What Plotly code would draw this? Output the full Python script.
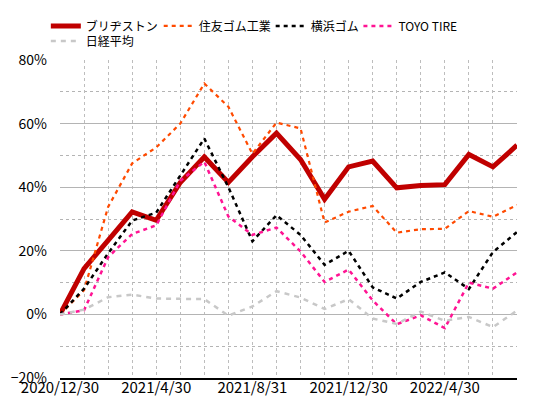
import plotly.graph_objects as go

# month-end dates (category axis)
dates = ["2020/12/30", "2021/1/29", "2021/2/26", "2021/3/31", "2021/4/30",
         "2021/5/31", "2021/6/30", "2021/7/30", "2021/8/31", "2021/9/30",
         "2021/10/29", "2021/11/30", "2021/12/30", "2022/1/31", "2022/2/28",
         "2022/3/31", "2022/4/30", "2022/5/31", "2022/6/30", "2022/7/29"]

# cumulative change vs 2020/12/30, in %
bridgestone = [0, 14.4, 23.3, 32.2, 29.6, 41.5, 49.5, 41.5, 49.6, 57.0,
               48.7, 36.2, 46.4, 48.2, 39.8, 40.5, 40.8, 50.3, 46.4, 53.2]
sumitomo = [0, 7.6, 33.8, 47.5, 52.5, 60.0, 72.6, 65.3, 50.5, 60.3,
            58.5, 28.9, 32.3, 34.1, 25.7, 26.8, 26.9, 32.5, 30.7, 34.4]
yokohama = [0, 8.1, 19.2, 29.5, 32.0, 43.5, 55.3, 40.0, 23.0, 31.2,
            25.0, 15.6, 20.0, 8.5, 5.0, 10.2, 13.2, 8.0, 19.6, 25.9]
toyo = [0, 1.3, 18.0, 25.3, 28.0, 42.0, 48.0, 30.8, 25.0, 27.3,
        19.8, 10.2, 14.1, 4.4, -3.1, -0.3, -4.3, 10.0, 8.1, 13.2]
nikkei = [0, 1.5, 5.4, 6.2, 5.0, 5.0, 4.8, -0.4, 2.5, 7.3,
          5.3, 1.7, 4.8, -1.3, -3.0, 0.9, -2.0, -0.8, -4.0, 1.2]

tick_labels = [d if i % 4 == 0 else "" for i, d in enumerate(dates)]

series = [
    ("ブリヂストン", bridgestone, dict(color="#C00000", width=5)),
    ("住友ゴム工業", sumitomo, dict(color="#FF4A00", width=2.2, dash="4px,4px")),
    ("横浜ゴム", yokohama, dict(color="#000000", width=2.5, dash="4px,4px")),
    ("TOYO TIRE", toyo, dict(color="#FF1493", width=2.5, dash="4px,4px")),
    ("日経平均", nikkei, dict(color="#C8C8C8", width=2.5, dash="5px,5px")),
]
# one legend per entry so the entries sit where the reference has them
legend_pos = [(-0.031, 1.107), (0.216, 1.107), (0.461, 1.107), (0.653, 1.107), (-0.031, 1.06)]

fig = go.Figure()
legends = {}
for i, (name, vals, line) in enumerate(series):
    key = "legend" if i == 0 else f"legend{i + 1}"
    fig.add_trace(go.Scatter(x=dates, y=vals, mode="lines", name=name,
                             legend=key, line=line))
    legends[key] = dict(x=legend_pos[i][0], y=legend_pos[i][1],
                        orientation="h", xanchor="left", yanchor="middle",
                        font=dict(size=12), itemwidth=30, bgcolor="rgba(0,0,0,0)")

# page body has an 8px margin, so the figure is a bit smaller than the window
fig.update_layout(
    width=527, height=398,
    margin=dict(l=52, r=18, t=52, b=28, autoexpand=False),
    paper_bgcolor="white", plot_bgcolor="white",
    font=dict(family="Noto Sans CJK JP, Liberation Sans, sans-serif", size=13, color="#000000"),
    showlegend=True,
    **legends,
)
fig.update_xaxes(
    type="category", range=[0, len(dates) - 1],
    tickvals=dates, ticktext=tick_labels, ticks="",
    showgrid=True, gridcolor="#BDBDBD", griddash="dot", gridwidth=1,
    showline=True, linecolor="#000000", linewidth=1.5,
    tickfont=dict(size=15), zeroline=False, automargin=False,
    ticklabelstandoff=-5,
)
fig.update_yaxes(
    range=[-20, 80], dtick=20, ticksuffix="%",
    showgrid=True, gridcolor="#B4B4B4", gridwidth=1,
    minor=dict(dtick=10, showgrid=True, gridcolor="#B4B4B4", griddash="dot"),
    zeroline=False, showline=False, ticks="",
    tickfont=dict(size=14), ticklabelstandoff=12, automargin=False,
)

fig.write_html("out.html")
